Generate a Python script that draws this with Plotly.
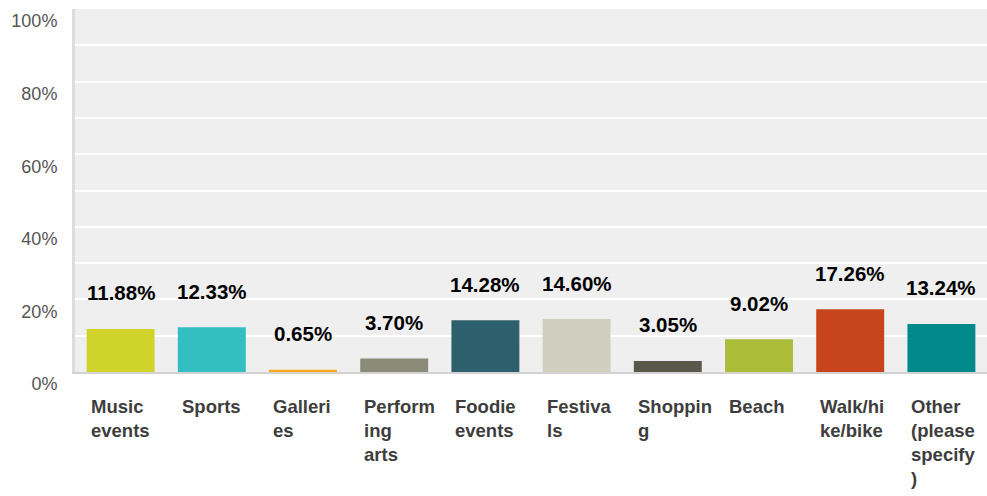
import plotly.graph_objects as go

# データ
categories = ["Music events", "Sports", "Galleries", "Performing arts", "Foodie events",
              "Festivals", "Shopping", "Beach", "Walk/hike/bike", "Other (please specify)"]
tick_labels = ["Music<br>events", "Sports", "Galleri<br>es", "Perform<br>ing<br>arts",
               "Foodie<br>events", "Festiva<br>ls", "Shoppin<br>g", "Beach",
               "Walk/hi<br>ke/bike", "Other<br>(please<br>specify<br>)"]
values = [11.88, 12.33, 0.65, 3.70, 14.28, 14.60, 3.05, 9.02, 17.26, 13.24]
colors = ["#d0d32a", "#33bec1", "#f7a823", "#8a8b78", "#2e5f6c",
          "#d0cebf", "#5a584a", "#abbd38", "#c8441c", "#00898a"]

bar_width = 0.745
xs = list(range(len(categories)))

fig = go.Figure(
    go.Bar(
        x=xs,
        y=values,
        width=bar_width,
        marker=dict(color=colors, line=dict(width=0)),
        hovertext=categories,
    )
)

# 値ラベル
for x, v in zip(xs, values):
    fig.add_annotation(
        x=x, y=v, xref="x", yref="y",
        text=f"{v:.2f}%", showarrow=False,
        yanchor="middle", yshift=36,
        font=dict(family="Liberation Sans, Arial", size=20.5, color="black", weight="bold"),
    )

# カテゴリラベル（左寄せ）
for x, lab in zip(xs, tick_labels):
    fig.add_annotation(
        x=x - bar_width / 2, y=0, xref="x", yref="y",
        text=lab, showarrow=False,
        xanchor="left", yanchor="top", align="left",
        xshift=2, yshift=-22,
        font=dict(family="Liberation Sans, Arial", size=18.5, color="#3d3d3d", weight="bold"),
    )

fig.update_layout(
    width=987,
    height=496,
    margin=dict(l=75, r=0, t=9, b=124),
    paper_bgcolor="white",
    plot_bgcolor="#efefef",
    showlegend=False,
    xaxis=dict(
        range=[-0.5, len(categories) - 0.5],
        showticklabels=False,
        showgrid=False,
        zeroline=False,
        showline=True,
        linecolor="#d2d2d2",
        linewidth=2,
    ),
    yaxis=dict(
        range=[0, 100],
        dtick=20,
        ticksuffix="%",
        showgrid=True,
        gridcolor="white",
        gridwidth=2,
        minor=dict(dtick=10, showgrid=True, gridcolor="white", gridwidth=2),
        zeroline=False,
        showline=True,
        linecolor="#dcdcdc",
        linewidth=3,
        ticks="",
        ticklabelshift=12,
        ticklabelstandoff=11,
        tickfont=dict(family="Liberation Sans, Arial", size=18, color="#555555"),
    ),
)

# ページ余白を消す
fig.write_html(
    "out.html",
    config={"displayModeBar": False},
    post_script="document.body.style.margin='0';",
)
